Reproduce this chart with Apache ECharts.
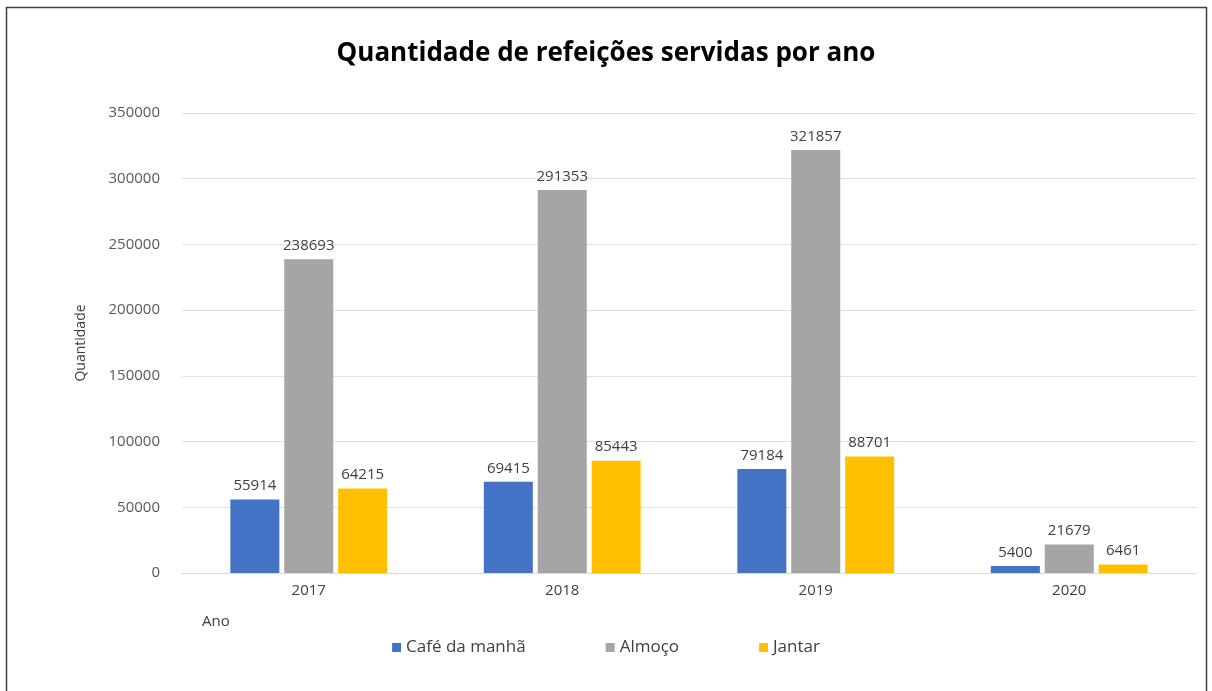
<!DOCTYPE html>
<html><head><meta charset="utf-8">
<script src="https://cdn.jsdelivr.net/npm/echarts@6/dist/echarts.min.js"></script>
<style>html,body{margin:0;padding:0;background:#fff}#c{width:1212px;height:691px}</style>
</head><body><div id="c"></div>
<script>
const categories = ['2017', '2018', '2019', '2020'];
const cafe = [55914, 69415, 79184, 5400];
const almoco = [238693, 291353, 321857, 21679];
const jantar = [64215, 85443, 88701, 6461];
const seriesNames = ['Café da manhã', 'Almoço', 'Jantar'];
const yTicks = { min: 0, max: 350000, interval: 50000 };

const font = '"Open Sans", "DejaVu Sans", sans-serif';
const chart = echarts.init(document.getElementById('c'));
const lbl = { show: true, position: 'top', distance: 6, color: '#404040', fontSize: 15, fontFamily: font };
function mk(name, data, color) {
  return { name, type: 'bar', data, barWidth: 49, barGap: '10%', itemStyle: { color }, label: lbl };
}
chart.setOption({
  backgroundColor: '#fff',
  animation: false,
  title: {
    text: 'Quantidade de refeições servidas por ano',
    left: 'center', top: 36,
    textStyle: { fontFamily: font, fontSize: 26, fontWeight: 'bold', color: '#000' }
  },
  legend: {
    data: seriesNames, top: 634, left: 'center', itemWidth: 9, itemHeight: 9, itemGap: 80,
    icon: 'rect', textStyle: { fontFamily: font, fontSize: 17, color: '#404040' }
  },
  grid: { left: 182, right: 16, top: 113, bottom: 118 },
  xAxis: {
    type: 'category', data: categories,
    axisLine: { lineStyle: { color: '#d9d9d9' } }, axisTick: { show: false },
    axisLabel: { color: '#404040', fontSize: 15, fontFamily: font, margin: 10 }
  },
  yAxis: {
    type: 'value', min: yTicks.min, max: yTicks.max, interval: yTicks.interval,
    name: 'Quantidade', nameLocation: 'middle', nameGap: 94, nameRotate: 90,
    nameTextStyle: { color: '#404040', fontSize: 14, fontFamily: font },
    axisLine: { show: false }, axisTick: { show: false },
    axisLabel: { color: '#595959', fontSize: 15, fontFamily: font, margin: 22, formatter: v => String(v) },
    splitLine: { lineStyle: { color: '#e0e0e0' } }
  },
  graphic: [
    { type: 'rect', shape: { x: 6.5, y: 7.5, width: 1200, height: 700 }, style: { fill: 'none', stroke: '#404040', lineWidth: 1.5 } },
    { type: 'text', left: 202, top: 614, style: { text: 'Ano', fill: '#404040', fontSize: 15, fontFamily: font } }
  ],
  series: [mk(seriesNames[0], cafe, '#4472C4'), mk(seriesNames[1], almoco, '#A5A5A5'), mk(seriesNames[2], jantar, '#FFC000')]
});
</script></body></html>
